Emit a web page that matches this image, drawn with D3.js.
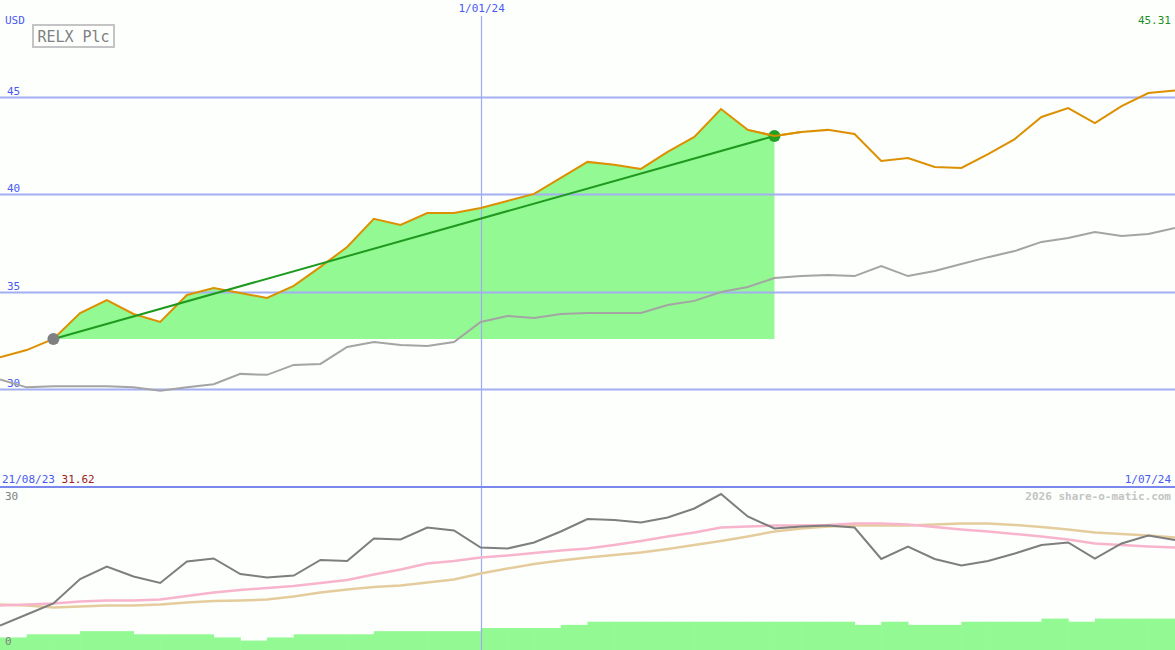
<!DOCTYPE html>
<html>
<head>
<meta charset="utf-8">
<script src="https://cdn.jsdelivr.net/npm/d3@7"></script>
<style>
  html, body { margin: 0; padding: 0; background: #fcfffc; }
  svg { display: block; }
  text { font-family: "DejaVu Sans Mono", "Liberation Mono", monospace; }
</style>
</head>
<body>
<svg id="chart" width="1175" height="650"></svg>
<script>
// ---------------- DATA ----------------
const startDate = "2023-08-28"; // first weekly point
const weekCount = 45;
const dates = d3.range(weekCount).map(i => d3.utcWeek.offset(new Date(startDate + "T00:00:00Z"), i));

const price = [31.64, 32.01, 32.58, 33.91, 34.57, 33.86, 33.45, 34.83, 35.19, 34.93,
               34.68, 35.30, 36.27, 37.29, 38.73, 38.42, 39.03, 39.03, 39.29, 39.65,
               40.01, 40.83, 41.65, 41.50, 41.29, 42.16, 42.93, 44.36, 43.29, 42.98,
               43.18, 43.29, 43.08, 41.70, 41.85, 41.39, 41.34, 42.05, 42.82, 43.95,
               44.41, 43.64, 44.51, 45.18, 45.31];

const comparison = [30.50, 30.10, 30.15, 30.15, 30.15, 30.10, 29.93, 30.10, 30.26, 30.79,
                    30.74, 31.25, 31.30, 32.17, 32.42, 32.27, 32.22, 32.42, 33.45, 33.76,
                    33.65, 33.86, 33.91, 33.91, 33.91, 34.32, 34.53, 34.98, 35.24, 35.70,
                    35.80, 35.86, 35.80, 36.31, 35.80, 36.06, 36.42, 36.77, 37.08, 37.55,
                    37.75, 38.06, 37.86, 37.96, 38.26];

const oscillator = [4.7, 6.9, 9.1, 14.0, 16.5, 14.5, 13.2, 17.5, 18.1, 15.0,
                    14.3, 14.7, 17.8, 17.6, 22.1, 21.9, 24.3, 23.7, 20.3, 20.1,
                    21.3, 23.5, 26.0, 25.8, 25.3, 26.3, 28.1, 31.0, 26.5, 24.1,
                    24.5, 24.7, 24.3, 18.0, 20.5, 18.0, 16.7, 17.6, 19.1, 20.8,
                    21.3, 18.1, 21.1, 22.7, 21.8];

const avgFast = [8.7, 8.9, 9.1, 9.5, 9.7, 9.7, 9.9, 10.6, 11.3, 11.8,
                 12.2, 12.6, 13.2, 13.8, 14.9, 15.9, 17.1, 17.6, 18.3, 18.7,
                 19.2, 19.7, 20.1, 20.8, 21.6, 22.5, 23.3, 24.3, 24.5, 24.7,
                 24.7, 24.8, 25.1, 25.1, 24.9, 24.4, 23.9, 23.5, 23.0, 22.5,
                 21.9, 21.1, 20.8, 20.5, 20.3];

const avgSlow = [8.9, 8.7, 8.3, 8.5, 8.7, 8.7, 8.9, 9.3, 9.6, 9.7,
                 9.9, 10.5, 11.3, 11.9, 12.4, 12.7, 13.3, 13.9, 15.1, 16.1,
                 17.0, 17.7, 18.3, 18.8, 19.3, 20.0, 20.8, 21.6, 22.5, 23.5,
                 24.1, 24.5, 24.7, 24.7, 24.7, 24.9, 25.1, 25.1, 24.8, 24.4,
                 23.9, 23.3, 23.0, 22.7, 22.3];

const volume = [4, 5, 5, 6, 6, 5, 5, 5, 4, 3,
                4, 5, 5, 5, 6, 6, 6, 6, 7, 7,
                7, 8, 9, 9, 9, 9, 9, 9, 9, 9,
                9, 9, 8, 9, 8, 8, 9, 9, 9, 10,
                9, 10, 10, 10];

const priceTicks = [45, 40, 35, 30];
const lowerTicks = [30, 0];
const dateTick = { date: "2024-01-01", label: "1/01/24" };
const trendStart = 2, trendEnd = 29;
const titleText = "RELX Plc";
const currencyText = "USD";
const lastPriceText = "45.31";
const startLabel = "21/08/23", startPriceText = "31.62";
const endLabel = "1/07/24";
const creditText = "2026 share-o-matic.com";

// ---------------- LAYOUT ----------------
const W = 1175, H = 650;
const svg = d3.select("#chart");
svg.append("rect").attr("width", W).attr("height", H).attr("fill", "#fcfffc");

const x = d3.scaleUtc().domain([dates[0], dates[dates.length - 1]]).range([0, W]);
const y = d3.scaleLinear().domain([30, 45]).range([389.3, 96.5]);
const y2 = d3.scaleLinear().domain([0, 30]).range([649, 499]);
const yv = d3.scaleLinear().domain([0, 10]).range([650, 618.6]);

const blue = "#4a5af0";

// volume bars (step)
svg.append("g").selectAll("rect").data(volume).join("rect")
  .attr("x", (d, i) => x(dates[i]))
  .attr("width", (d, i) => x(dates[i + 1]) - x(dates[i]) + 0.5)
  .attr("y", d => yv(d))
  .attr("height", d => yv(0) - yv(d))
  .attr("fill", "#93f993");

// green fill between price and start level
const base = price[trendStart];
const fillIdx = d3.range(trendStart, trendEnd + 1);
svg.append("path")
  .datum(fillIdx)
  .attr("d", d3.area().x(i => x(dates[i])).y0(y(base)).y1(i => y(Math.max(price[i], base))))
  .attr("fill", "#93f993");

// horizontal gridlines
const grid = svg.append("g");
grid.selectAll("line").data(priceTicks).join("line")
  .attr("x1", 0).attr("x2", W)
  .attr("y1", d => Math.round(y(d)) + 0.5).attr("y2", d => Math.round(y(d)) + 0.5)
  .attr("stroke", "#a4aef2").attr("stroke-width", 2);
grid.selectAll("text").data(priceTicks).join("text")
  .attr("x", 7).attr("y", d => y(d) - 2)
  .attr("font-size", 11).attr("fill", blue)
  .text(d => d);

// vertical date line
const xd = x(new Date(dateTick.date + "T00:00:00Z"));
svg.append("line")
  .attr("x1", Math.round(xd) + 0.5).attr("x2", Math.round(xd) + 0.5)
  .attr("y1", 16).attr("y2", H)
  .attr("stroke", "#9eaaf4").attr("stroke-width", 1.2);
svg.append("text").attr("x", xd + 1).attr("y", 12).attr("text-anchor", "middle")
  .attr("font-size", 11).attr("fill", blue).text(dateTick.label);

// comparison (gray) line
svg.append("path").datum(comparison)
  .attr("d", d3.line().x((d, i) => x(dates[i])).y(d => y(d)))
  .attr("fill", "none").attr("stroke", "#a4a4a4").attr("stroke-width", 2);

// price line
svg.append("path").datum(price)
  .attr("d", d3.line().x((d, i) => x(dates[i])).y(d => y(d)))
  .attr("fill", "none").attr("stroke", "#dc9000").attr("stroke-width", 2);

// trend line
svg.append("line")
  .attr("x1", x(dates[trendStart])).attr("y1", y(price[trendStart]))
  .attr("x2", x(dates[trendEnd])).attr("y2", y(price[trendEnd]))
  .attr("stroke", "#1f9a1f").attr("stroke-width", 2);

svg.append("circle").attr("cx", x(dates[trendStart])).attr("cy", y(price[trendStart]))
  .attr("r", 6).attr("fill", "#808080");
svg.append("circle").attr("cx", x(dates[trendEnd])).attr("cy", y(price[trendEnd]))
  .attr("r", 6).attr("fill", "#22a022");
// price line visible through the end marker
svg.append("path").datum(price.slice(trendEnd - 1, trendEnd + 2))
  .attr("d", d3.line().x((d, i) => x(dates[trendEnd - 1 + i])).y(d => y(d)))
  .attr("fill", "none").attr("stroke", "#dc9000").attr("stroke-width", 2)
  .attr("opacity", 0.9);

// labels top
svg.append("text").attr("x", 5).attr("y", 24).attr("font-size", 11).attr("fill", blue).text(currencyText);
svg.append("rect").attr("x", 33).attr("y", 25).attr("width", 81).attr("height", 22)
  .attr("fill", "#fcfffc").attr("stroke", "#c4c4c4").attr("stroke-width", 2);
svg.append("text").attr("x", 73.5).attr("y", 41.5).attr("text-anchor", "middle")
  .attr("font-size", 15).attr("fill", "#808080").text(titleText);
svg.append("text").attr("x", 1171).attr("y", 24).attr("text-anchor", "end")
  .attr("font-size", 11).attr("fill", "#1f8f1f").text(lastPriceText);

// separator
svg.append("line").attr("x1", 0).attr("x2", W).attr("y1", 487).attr("y2", 487)
  .attr("stroke", "#7a88ee").attr("stroke-width", 2);
const sl = svg.append("text").attr("x", 2).attr("y", 483).attr("font-size", 11);
sl.append("tspan").attr("fill", blue).text(startLabel + " ");
sl.append("tspan").attr("fill", "#a02020").text(startPriceText);
svg.append("text").attr("x", 1171).attr("y", 483).attr("text-anchor", "end")
  .attr("font-size", 11).attr("fill", blue).text(endLabel);
svg.append("text").attr("x", 1171).attr("y", 500).attr("text-anchor", "end")
  .attr("font-size", 11).attr("font-weight", "bold").attr("fill", "#c4c4c4").text(creditText);

// lower panel tick labels
svg.append("g").selectAll("text").data(lowerTicks).join("text")
  .attr("x", 5).attr("y", d => d === 0 ? 645 : 500)
  .attr("font-size", 11).attr("fill", "#808080").text(d => d);

// lower panel lines
const lowerLine = d3.line().x((d, i) => x(dates[i])).y(d => y2(d));
svg.append("path").datum(avgSlow).attr("d", lowerLine)
  .attr("fill", "none").attr("stroke", "#e4cc9c").attr("stroke-width", 2.5);
svg.append("path").datum(avgFast).attr("d", lowerLine)
  .attr("fill", "none").attr("stroke", "#f8b4cc").attr("stroke-width", 2.5);
svg.append("path").datum(oscillator).attr("d", lowerLine)
  .attr("fill", "none").attr("stroke", "#7e7e7e").attr("stroke-width", 2);
</script>
</body>
</html>
